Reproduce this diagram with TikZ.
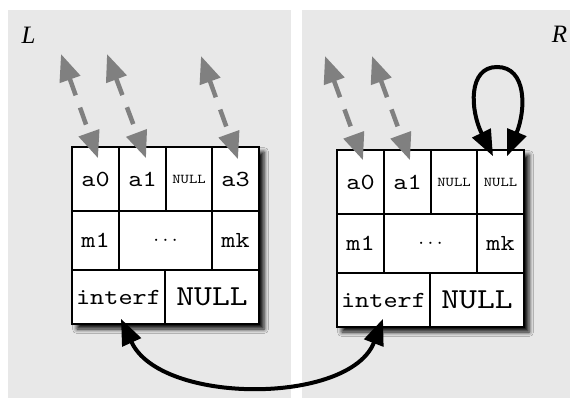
\documentclass[tikz,border=0pt]{standalone}
\usepackage{fontspec}
\setmainfont{Liberation Serif}
\newfontfamily\cellfont{lmmono10-regular}[Extension=.otf,FakeStretch=1.17]
\usetikzlibrary{arrows.meta,shadows.blur}
\definecolor{panelgray}{RGB}{232,232,232}
\definecolor{ptrgray}{RGB}{128,128,128}
\tikzset{
  panel/.style={fill=panelgray},
  tabbg/.style={draw=black, line width=1.6pt, fill=white, inner sep=0pt,
    blur shadow={shadow xshift=5pt, shadow yshift=-5pt, shadow blur radius=4.5pt, shadow opacity=95}},
  cell/.style={draw=black, line width=1.6pt, fill=white, inner sep=0pt, font=\cellfont\fontsize{23}{23}\selectfont},
  smallcell/.style={cell, font=\cellfont\fontsize{13.5}{13.5}\selectfont},
  bigcell/.style={cell, font=\cellfont\fontsize{29}{29}\selectfont},
  dotscell/.style={cell, font=\fontsize{22}{22}\selectfont},
  lbl/.style={inner sep=0pt, font=\itshape\fontsize{25}{25}\selectfont},
  ptr/.style={draw=ptrgray, line width=4.5pt, dash pattern=on 18pt off 13pt,
    {Triangle[length=27pt,width=21pt]}-{Triangle[length=27pt,width=21pt]}},
  blk/.style={draw=black, line width=4pt,
    {Triangle[length=26pt,width=20pt]}-{Triangle[length=26pt,width=20pt]}}
}
\newcommand\mktable[4]{%
\begin{scope}[shift={(#2,#3)}]
  \node[tabbg, minimum width=187pt, minimum height=177pt] (#1tab) at (165.5,235.5) {};
  \node[cell, minimum width=47pt, minimum height=64pt] (#1a0) at (95.5,179) {a0};
  \node[cell, minimum width=47pt, minimum height=64pt] (#1a1) at (142.5,179) {a1};
  \node[smallcell, minimum width=46pt, minimum height=64pt] (#1c2) at (189,179) {NULL};
  \node[#4, minimum width=47pt, minimum height=64pt] (#1c3) at (235.5,179) {\csname mktext#1\endcsname};
  \node[cell, minimum width=47pt, minimum height=59pt] (#1m1) at (95.5,240.5) {m1};
  \node[dotscell, minimum width=93pt, minimum height=59pt] (#1dots) at (165.5,240.5) {$\cdots$};
  \node[cell, minimum width=47pt, minimum height=59pt] (#1mk) at (235.5,240.5) {mk};
  \node[cell, minimum width=93pt, minimum height=54pt] (#1if) at (118.5,297) {interf};
  \node[bigcell, minimum width=94pt, minimum height=54pt] (#1nl) at (212,297) {NULL};
\end{scope}}
\newcommand\mktextL{a3}
\newcommand\mktextR{NULL}
\begin{document}
\begin{tikzpicture}[x=1pt,y=-1pt]
  \useasboundingbox (0,0) rectangle (576,398);
  \fill[panel] (8,10) rectangle (291,398);
  \fill[panel] (302,10) rectangle (570,398);
  \node[lbl] (Lname) at (28.5,35) {L};
  \node[lbl] (Rname) at (559.5,34) {R};
  \mktable{L}{0}{0}{cell}
  \mktable{R}{265}{3}{smallcell}
  % pointer ends
  \coordinate (La0f) at (61,54);
  \coordinate (La1f) at (107,54);
  \coordinate (La3f) at (201,56);
  \coordinate (Ra0f) at (325,56);
  \coordinate (Ra1f) at (372,56);
  \coordinate (La0p) at ([shift={(2.5,12)}]La0.north);
  \coordinate (La1p) at ([shift={(3.5,12)}]La1.north);
  \coordinate (La3p) at ([shift={(2.5,13)}]Lc3.north);
  \coordinate (Ra0p) at ([shift={(2.5,11)}]Ra0.north);
  \coordinate (Ra1p) at ([shift={(2.5,11)}]Ra1.north);
  \draw[ptr] (La0f) -- (La0p);
  \draw[ptr] (La1f) -- (La1p);
  \draw[ptr] (La3f) -- (La3p);
  \draw[ptr] (Ra0f) -- (Ra0p);
  \draw[ptr] (Ra1f) -- (Ra1p);
  % self loop
  \coordinate (Rl1) at ([shift={(-7.5,7)}]Rc3.north);
  \coordinate (Rl2) at ([shift={(6.5,7)}]Rc3.north);
  \coordinate (Rtop) at (497,67);
  \draw[blk] (Rl1) .. controls (470,110) and (468,67) .. (Rtop)
                   .. controls (527,67) and (526,110) .. (Rl2);
  % interface link
  \coordinate (Lifp) at ([shift={(2.5,-6)}]Lif.south);
  \coordinate (Rifp) at ([shift={(-0.5,-9)}]Rif.south);
  \draw[blk] (Lifp) .. controls (160,405) and (350,405) .. (Rifp);
\end{tikzpicture}
\end{document}
